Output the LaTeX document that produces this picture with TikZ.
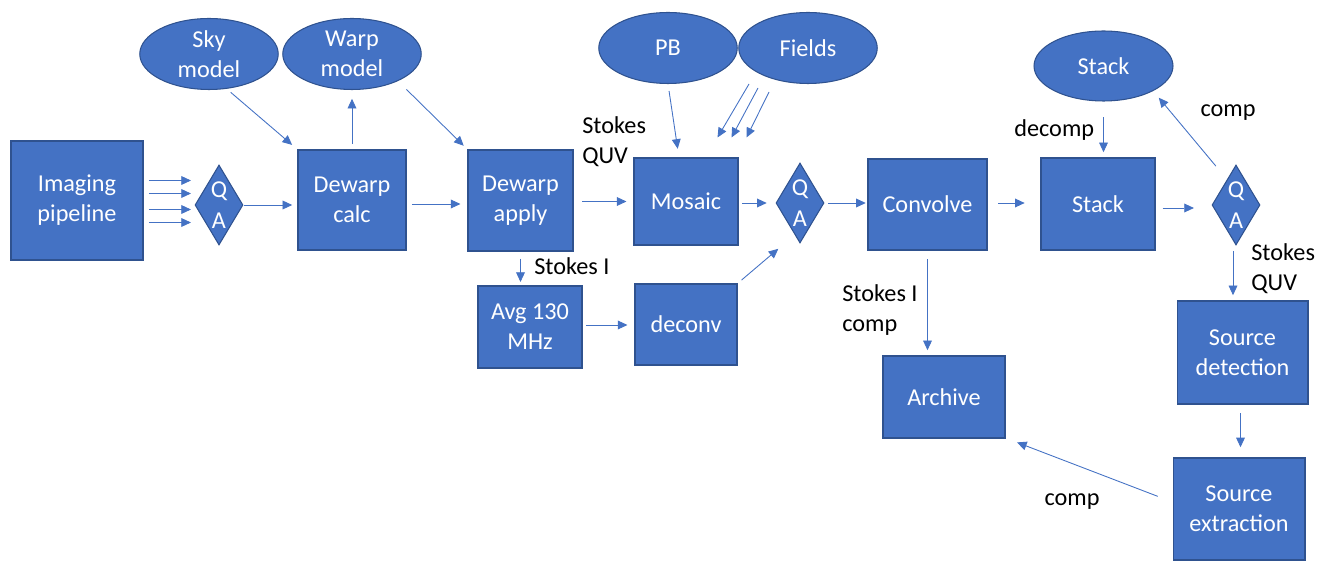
\documentclass[tikz,border=0pt]{standalone}
\usepackage{fontspec}
\setmainfont{Carlito}
\usetikzlibrary{arrows.meta,shapes.geometric,calc}

\definecolor{boxblue}{HTML}{4472C4}
\definecolor{boxedge}{HTML}{2F528F}
\definecolor{flowblue}{HTML}{4472C4}

\tikzset{
    txt/.style={font=\fontsize{13.8}{17}\selectfont, align=center, inner sep=0pt},
    stepbox/.style={txt, draw=boxedge, fill=boxblue, text=white, line width=0.6pt},
    store/.style={stepbox, ellipse, minimum width=2.77cm, minimum height=1.42cm},
    qa/.style={draw=boxedge, fill=boxblue, diamond, line width=0.6pt, inner sep=0pt,
        minimum width=0.96cm, minimum height=1.6cm,
        label={[txt, text=white]center:Q\\[0.5pt]A}},
    flow/.style={draw=flowblue, line width=0.5pt, -{Triangle[length=5.5pt,width=5pt]}},
    note/.style={txt, align=left, anchor=north west}
}

\begin{document}
\begin{tikzpicture}[x=0.02cm, y=-0.02cm]
    \useasboundingbox (0,0) rectangle (1325,577);

    % processing steps
    \node[stepbox, minimum width=2.64cm, minimum height=2.38cm] (img) at (77,200.5) {Imaging\\pipeline};
    \node[qa] (qa1) at (219,205) {};
    \node[stepbox, minimum width=2.16cm, minimum height=2.0cm] (dwc) at (352,200) {Dewarp\\calc};
    \node[stepbox, minimum width=2.10cm, minimum height=2.02cm] (dwa) at (520.5,200.5) {Dewarp\\apply};
    \node[stepbox, minimum width=2.08cm, minimum height=1.74cm] (mos) at (686,201.5) {Mosaic};
    \node[qa] (qa2) at (800,203) {};
    \node[stepbox, minimum width=2.38cm, minimum height=1.82cm] (conv) at (927.5,204.5) {Convolve};
    \node[stepbox, minimum width=2.28cm, minimum height=1.84cm] (stk) at (1098,204) {Stack};
    \node[qa] (qa3) at (1236,205) {};
    \node[stepbox, minimum width=2.08cm, minimum height=1.64cm] (avg) at (530,327) {Avg 130\\MHz};
    \node[stepbox, minimum width=2.04cm, minimum height=1.62cm] (dec) at (686,324.5) {deconv};
    \node[stepbox, minimum width=2.44cm, minimum height=1.64cm] (arc) at (944,397) {Archive};
    \node[stepbox, minimum width=2.62cm, minimum height=2.06cm] (sdet) at (1242.5,352.5) {Source\\detection};
    \node[stepbox, minimum width=2.64cm, minimum height=2.04cm] (sext) at (1239,509) {Source\\extraction};

    % data stores
    \node[store] (sky) at (209,54) {Sky\\model};
    \node[store] (warp) at (352,54) {Warp\\model};
    \node[store] (pb) at (668,48) {PB};
    \node[store] (fields) at (808,48) {Fields};
    \node[store, minimum width=2.78cm, minimum height=1.40cm] (stkdb) at (1103.5,66) {Stack};

    % labels
    \node[note] (lquv) at (582,116) {Stokes\\QUV};
    \node[note] (lsi) at (534,257) {Stokes I};
    \node[note] (lsic) at (842,284) {Stokes I\\comp};
    \node[txt, anchor=west] (ldec) at (1014,130) {decomp};
    \node[txt] (lcomp) at (1228,113) {comp};
    \node[note] (lquv2) at (1251,243) {Stokes\\QUV};
    \node[txt] (lcomp2) at (1072,502) {comp};

    % connectors
    \coordinate (qa3b) at ($(qa3.south)+(-3,0)$);
    \foreach \dy in {-20,-7,9,22}
        \draw[flow, shorten <=3pt, shorten >=2pt] ($(img.east)+(0,\dy)$) -- ($(img.east -| qa1.west)+(0,\dy)$);
    \draw[flow, shorten >=3pt] (qa1.east) -- (qa1.east -| dwc.west);
    \draw[flow, shorten <=2pt, shorten >=4pt] ($(sky.south)+(19,0)$) -- (dwc.north west);
    \draw[flow, shorten <=3pt, shorten >=5pt] (dwc.north) -- (warp.south);
    \draw[flow, shorten <=2pt, shorten >=3pt] ($(warp.south)+(52,-3)$) -- (dwa.north west);
    \draw[flow, shorten <=3pt, shorten >=4pt] (dwc.east |- 0,204) -- (dwa.west |- 0,204);
    \draw[flow, shorten <=5pt, shorten >=4pt] (dwa.east |- mos.west) -- (mos.west);
    \draw[flow, shorten <=4pt, shorten >=5pt] (pb.south) -- ($(mos.north)+(-7,0)$);
    \foreach \sx/\sy/\ex in {-59/36/-21, -50/40/-7, -39/44/8}
        \draw[flow] ($(fields.center)+(\sx,\sy)$) -- ($(mos.north east)+(\ex,-20)$);
    \draw[flow, shorten <=2pt, shorten >=5pt] (mos.east |- qa2.west) -- (qa2.west);
    \draw[flow, shorten <=2pt, shorten >=1pt] (qa2.east) -- (qa2.east -| conv.west);
    \draw[flow, shorten <=3pt, shorten >=2pt] (dec.north east) -- ($(qa2.south)+(-19,3)$);
    \draw[flow, shorten <=4pt, shorten >=2pt] (dwa.south) -- (dwa.south |- avg.north);
    \draw[flow, shorten <=2pt, shorten >=4pt] (avg.east |- 0,325) -- (dec.west |- 0,325);
    \draw[flow, shorten <=5pt, shorten >=3pt] (conv.south) -- (conv.south |- arc.north);
    \draw[flow, shorten <=6pt, shorten >=9pt] (conv.east |- 0,203) -- (stk.west |- 0,203);
    \draw[flow, shorten <=9pt, shorten >=3pt] (stkdb.south) -- (stkdb.south |- stk.north);
    \draw[flow, shorten <=4pt, shorten >=10pt] (stk.east |- 0,208) -- (qa3.west |- 0,208);
    \draw[flow, shorten <=1pt, shorten >=2pt] ($(qa3.north)+(-19,3)$) -- ($(stkdb.east)+(-17,29)$);
    \draw[flow, shorten <=3pt, shorten >=3pt] (qa3b) -- (qa3b |- sdet.north);
    \draw[flow, shorten <=5pt, shorten >=3pt] ($(sdet.south)+(-2,0)$) -- ($(sdet.south)+(-2,48)$);
    \draw[flow, shorten <=9pt, shorten >=7pt] (sext.west |- 0,502) -- (arc.east |- 0,438);

\end{tikzpicture}
\end{document}
